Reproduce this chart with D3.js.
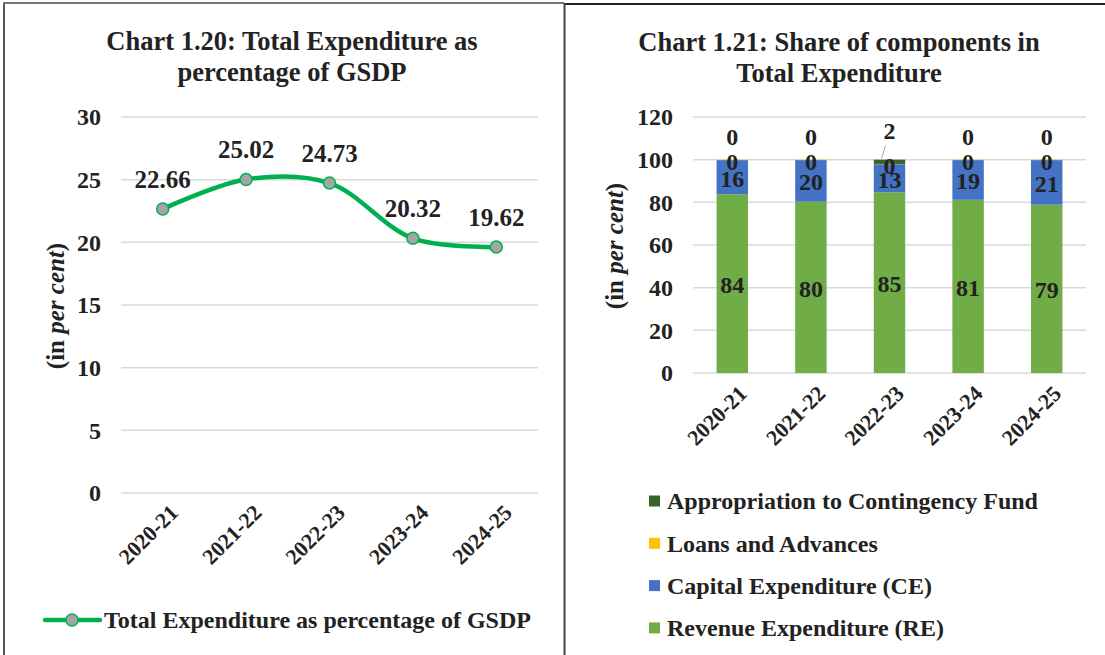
<!DOCTYPE html>
<html><head><meta charset="utf-8">
<script src="https://cdn.jsdelivr.net/npm/d3@7"></script>
<style>
body{margin:0;background:#fff;}
text{font-family:"Liberation Serif","Times New Roman",serif;font-weight:bold;fill:#222;}
</style></head>
<body><svg id="c" width="1105" height="655"></svg>
<script>
const years = ["2020-21","2021-22","2022-23","2023-24","2024-25"];
const totalExpPctGSDP = [22.66, 25.02, 24.73, 20.32, 19.62];
const leftTicks = [0,5,10,15,20,25,30];

const revenueExp = [83.8, 80.3, 84.7, 81.2, 78.9];
const capitalExp = [16.0, 19.5, 13.2, 18.6, 20.9];
const loansAdv   = [0.2, 0.2, 0.1, 0.2, 0.2];
const contingency= [0.0, 0.0, 2.0, 0.0, 0.0];
const rightTicks = [0,20,40,60,80,100,120];
const seriesNames = ["Revenue Expenditure (RE)","Capital Expenditure (CE)","Loans and Advances","Appropriation to Contingency Fund"];
const seriesColors = ["#70AD47","#4472C4","#FFC000","#3B6428"];

const svg = d3.select("#c");

// panel borders
svg.append("line").attr("x1",4).attr("x2",4).attr("y1",2).attr("y2",655).attr("stroke","#555").attr("stroke-width",2);
svg.append("line").attr("x1",3).attr("x2",564).attr("y1",3).attr("y2",3).attr("stroke","#777").attr("stroke-width",2);
svg.append("line").attr("x1",564).attr("x2",1105).attr("y1",4).attr("y2",4).attr("stroke","#222").attr("stroke-width",2);
svg.append("line").attr("x1",564.5).attr("x2",564.5).attr("y1",3).attr("y2",655).attr("stroke","#444").attr("stroke-width",2);

// ===== Left chart =====
const L = svg.append("g");
L.append("text").attr("x",292).attr("y",50).attr("text-anchor","middle").attr("font-size",26.5).text("Chart 1.20: Total Expenditure as");
L.append("text").attr("x",292).attr("y",81).attr("text-anchor","middle").attr("font-size",26.5).text("percentage of GSDP");

const xL = d3.scaleBand().domain(years).range([121,538]);
const yL = d3.scaleLinear().domain([0,30]).range([493,117]);
const cx = d => xL(d)+xL.bandwidth()/2;

L.append("g").selectAll("line").data(leftTicks).join("line")
  .attr("x1",121).attr("x2",538).attr("y1",d=>yL(d)).attr("y2",d=>yL(d))
  .attr("stroke","#d9d9d9").attr("stroke-width",1.5);
L.append("g").selectAll("text").data(leftTicks).join("text")
  .attr("x",101).attr("y",d=>yL(d)).attr("dy","0.35em").attr("text-anchor","end").attr("font-size",24).text(d=>d);

L.append("g").selectAll("text").data(years).join("text")
  .attr("transform",d=>`translate(${cx(d)+6},${503}) rotate(-45)`)
  .attr("text-anchor","end").attr("dy","0.7em").attr("font-size",22).text(d=>d);

const yt = L.append("text").attr("transform","translate(64,306) rotate(-90)").attr("text-anchor","middle").attr("font-size",25);
yt.append("tspan").text("(in ");
yt.append("tspan").attr("font-style","italic").text("per cent");
yt.append("tspan").text(")");

const lineGen = d3.line().x((d,i)=>cx(years[i])).y(d=>yL(d)).curve(d3.curveCatmullRom.alpha(0.5));
L.append("path").datum(totalExpPctGSDP).attr("d",lineGen).attr("fill","none").attr("stroke","#00B050").attr("stroke-width",4.5).attr("stroke-linecap","round");
L.append("g").selectAll("circle").data(totalExpPctGSDP).join("circle")
  .attr("cx",(d,i)=>cx(years[i])).attr("cy",d=>yL(d)).attr("r",6)
  .attr("fill","#A5A5A5").attr("stroke","#00B050").attr("stroke-width",1.5);
L.append("g").selectAll("text").data(totalExpPctGSDP).join("text")
  .attr("x",(d,i)=>cx(years[i])).attr("y",d=>yL(d)-30).attr("dy","0.35em").attr("text-anchor","middle").attr("font-size",25)
  .text(d=>d.toFixed(2));

// legend left
L.append("line").attr("x1",45).attr("x2",100).attr("y1",620).attr("y2",620).attr("stroke","#00B050").attr("stroke-width",4.5).attr("stroke-linecap","round");
L.append("circle").attr("cx",72).attr("cy",620).attr("r",6).attr("fill","#A5A5A5").attr("stroke","#00B050").attr("stroke-width",1.5);
L.append("text").attr("x",104).attr("y",620).attr("dy","0.35em").attr("font-size",24).text("Total Expenditure as percentage of GSDP");

// ===== Right chart =====
const R = svg.append("g");
R.append("text").attr("x",839).attr("y",51).attr("text-anchor","middle").attr("font-size",26.5).text("Chart 1.21: Share of components in");
R.append("text").attr("x",839).attr("y",82).attr("text-anchor","middle").attr("font-size",26.5).text("Total Expenditure");

const xR = d3.scaleBand().domain(years).range([693,1086]).paddingInner(0.6).paddingOuter(0.3);
const yR = d3.scaleLinear().domain([0,120]).range([373,117]);

R.append("g").selectAll("line").data(rightTicks).join("line")
  .attr("x1",693).attr("x2",1086).attr("y1",d=>yR(d)).attr("y2",d=>yR(d))
  .attr("stroke","#d9d9d9").attr("stroke-width",1.5);
R.append("g").selectAll("text").data(rightTicks).join("text")
  .attr("x",673).attr("y",d=>yR(d)).attr("dy","0.35em").attr("text-anchor","end").attr("font-size",24).text(d=>d);

const rc = d => xR(d)+xR.bandwidth()/2;
R.append("g").selectAll("text").data(years).join("text")
  .attr("transform",d=>`translate(${rc(d)+5},${384}) rotate(-45)`)
  .attr("text-anchor","end").attr("dy","0.7em").attr("font-size",22).text(d=>d);

const yt2 = R.append("text").attr("transform","translate(623,246) rotate(-90)").attr("text-anchor","middle").attr("font-size",25);
yt2.append("tspan").text("(in ");
yt2.append("tspan").attr("font-style","italic").text("per cent");
yt2.append("tspan").text(")");

const rows = years.map((y,i)=>({year:y, s0:revenueExp[i], s1:capitalExp[i], s2:loansAdv[i], s3:contingency[i]}));
const stack = d3.stack().keys(["s0","s1","s2","s3"])(rows);

stack.forEach((layer,k)=>{
  R.append("g").selectAll("rect").data(layer).join("rect")
    .attr("x",d=>xR(d.data.year)).attr("width",xR.bandwidth())
    .attr("y",d=>yR(d[1])).attr("height",d=>yR(d[0])-yR(d[1]))
    .attr("fill",seriesColors[k]);
});

// leader line for non-zero contingency label
R.append("g").selectAll("line").data(stack[3].filter(d=>d[1]-d[0]>0.5)).join("line")
  .attr("x1",d=>rc(d.data.year)-8).attr("y1",d=>yR(d[1])-1)
  .attr("x2",d=>rc(d.data.year)-4).attr("y2",d=>yR(d[1])-14)
  .attr("stroke","#a6a6a6").attr("stroke-width",1);

// data labels
stack.forEach((layer,k)=>{
  R.append("g").selectAll("text").data(layer).join("text")
    .attr("x",d=>rc(d.data.year))
    .attr("y",d=>{
      if(k===3) return yR(d[1]) - (d[1]-d[0]>0.5 ? 29 : 23);
      if(k===2) return yR(d[1])+2;
      return (yR(d[0])+yR(d[1]))/2 + 1;
    })
    .attr("dy","0.35em").attr("text-anchor","middle").attr("font-size",24)
    .text(d=>Math.round(d[1]-d[0]));
});

// legend right
const legOrder = [3,2,1,0];
const lg = R.append("g").selectAll("g").data(legOrder).join("g")
  .attr("transform",(d,i)=>`translate(649,${501+i*42.3})`);
lg.append("rect").attr("x",0).attr("y",-5.5).attr("width",11).attr("height",11).attr("fill",d=>seriesColors[d]);
lg.append("text").attr("x",18).attr("y",0).attr("dy","0.35em").attr("font-size",24).text(d=>seriesNames[d]);
</script></body></html>
